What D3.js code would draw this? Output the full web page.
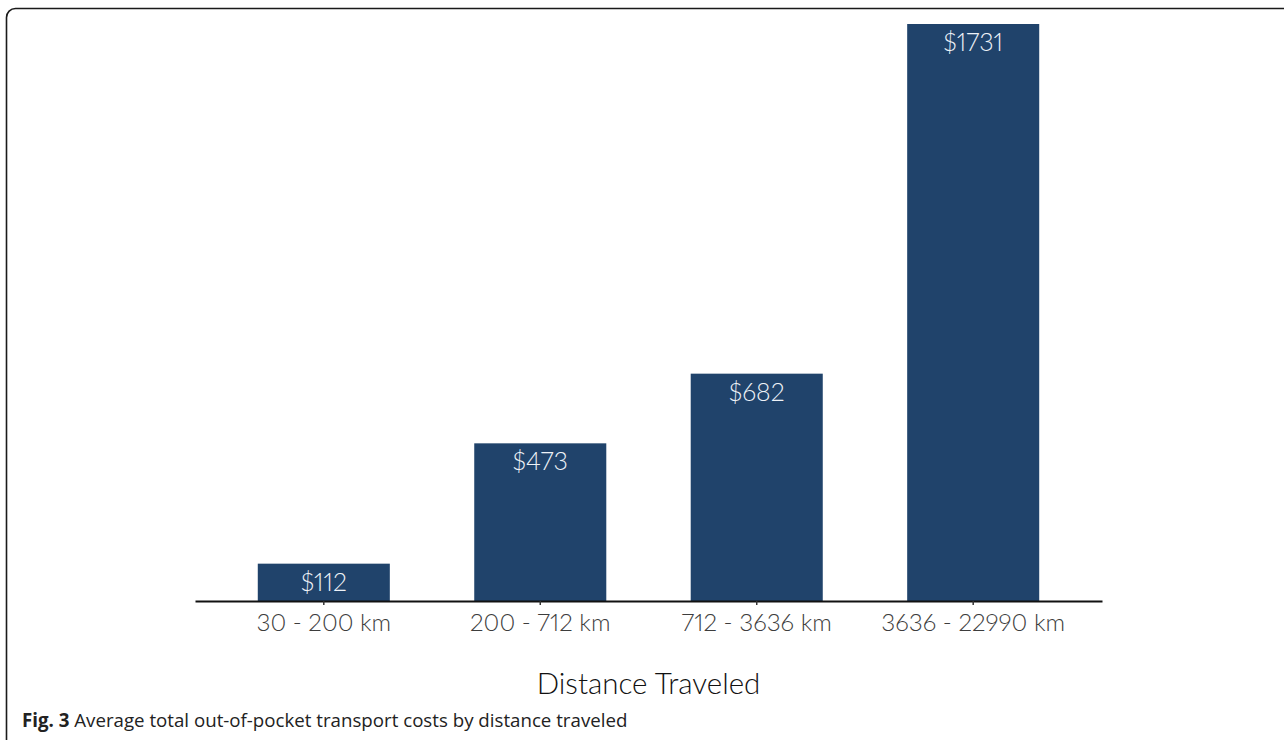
<!DOCTYPE html>
<html>
<head>
<meta charset="utf-8">
<script src="https://cdn.jsdelivr.net/npm/d3@7/dist/d3.min.js"></script>
<style>
  html, body { margin: 0; padding: 0; background: #fff; }
  svg { display: block; }
  .pn { font-variant-numeric: proportional-nums; font-feature-settings: "pnum" 1; }
</style>
</head>
<body>
<svg id="chart" width="1284" height="740"></svg>
<script>
// Distance bands and average out-of-pocket transport cost (USD)
const categories = ["30 - 200 km", "200 - 712 km", "712 - 3636 km", "3636 - 22990 km"];
const costs = [112, 473, 682, 1731];
const xTitle = "Distance Traveled";
const captionBold = "Fig. 3";
const captionText = " Average total out-of-pocket transport costs by distance traveled";

const svg = d3.select("#chart");
const W = 1284, H = 740;

// Figure frame (rounded, runs off the right and bottom edges)
svg.append("rect")
  .attr("x", 6.5).attr("y", 8.5)
  .attr("width", W + 20).attr("height", H)
  .attr("rx", 9).attr("ry", 9)
  .attr("fill", "none")
  .attr("stroke", "#1a1a1a")
  .attr("stroke-width", 1.6);

const left = 195, right = 1102, baseY = 601, topY = 24;

const x = d3.scaleBand()
  .domain(categories)
  .range([left, right])
  .paddingInner(0.39)
  .paddingOuter(0.29);

const y = d3.scaleLinear()
  .domain([0, d3.max(costs)])
  .range([baseY, topY]);

const data = categories.map((c, i) => ({ c, v: costs[i] }));

const barColor = "#20436b";
const font = "Lato, 'Open Sans', sans-serif";

svg.append("g").selectAll("rect")
  .data(data)
  .join("rect")
  .attr("x", d => x(d.c))
  .attr("y", d => y(d.v))
  .attr("width", x.bandwidth())
  .attr("height", d => y(0) - y(d.v))
  .attr("fill", barColor);

// Value labels inside the top of each bar
svg.append("g").selectAll("text")
  .data(data)
  .join("text")
  .attr("class", "pn")
  .attr("x", d => x(d.c) + x.bandwidth() / 2)
  .attr("y", d => y(d.v) + 27)
  .attr("text-anchor", "middle")
  .attr("font-family", font)
  .attr("font-weight", 300)
  .attr("font-size", 25)
  .attr("fill", "#eef2f7")
  .text(d => "$" + d.v);

// X axis
const xAxis = svg.append("g")
  .attr("transform", `translate(0,${baseY})`)
  .call(d3.axisBottom(x).tickSize(4).tickSizeOuter(0));
xAxis.select(".domain").attr("stroke", "#111").attr("stroke-width", 2);
xAxis.selectAll(".tick line").attr("stroke", "#333").attr("stroke-width", 1.5);
xAxis.selectAll(".tick text")
  .attr("class", "pn")
  .attr("y", 30)
  .attr("dy", 0)
  .attr("font-family", font)
  .attr("font-weight", 300)
  .attr("font-size", 24.3)
  .attr("fill", "#3d3d3d");

// Axis title
svg.append("text")
  .attr("x", (left + right) / 2)
  .attr("y", 694)
  .attr("text-anchor", "middle")
  .attr("font-family", font)
  .attr("font-weight", 300)
  .attr("font-size", 29.5)
  .attr("fill", "#111")
  .text(xTitle);

// Figure caption
const cap = svg.append("text")
  .attr("x", 22)
  .attr("y", 727)
  .attr("font-family", "'Open Sans', sans-serif")
  .attr("font-size", 18.7)
  .attr("fill", "#222");
cap.append("tspan").attr("font-weight", 700).text(captionBold);
cap.append("tspan").attr("font-weight", 400).text(captionText);
</script>
</body>
</html>
